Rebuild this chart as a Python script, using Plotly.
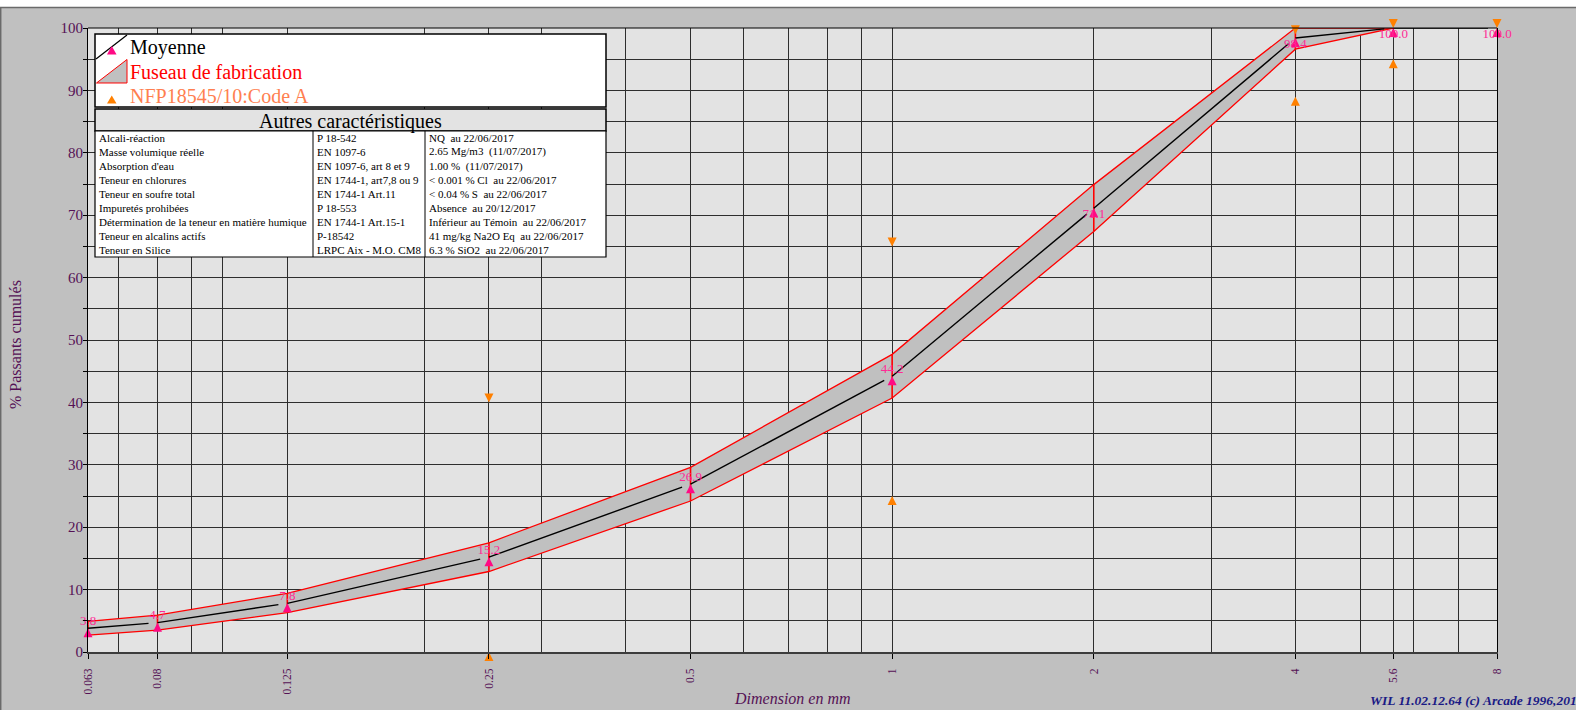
import math
import plotly.graph_objects as go

# ---------------- data ----------------
sieves = [0.063, 0.08, 0.125, 0.25, 0.5, 1, 2, 4, 5.6, 8]
tick_labels = ["0.063", "0.08", "0.125", "0.25", "0.5", "1", "2", "4", "5.6", "8"]
moyenne = [3.8, 4.7, 7.8, 15.2, 26.9, 44.2, 71.1, 98.4, 100.0, 100.0]
fuseau_sup = [4.9, 5.9, 9.4, 17.5, 29.6, 47.7, 74.9, 100.0, 100.0]
fuseau_inf = [2.7, 3.5, 6.3, 12.9, 24.2, 40.7, 67.4, 96.6, 100.0]
nfp_inf = [None, None, None, 0, None, 25, None, 89, 95, 100]
nfp_sup = [None, None, None, 40, None, 65, None, 99, 100, 100]
grid_minor_x = [0.07, 0.09, 0.1, 0.2, 0.3, 0.4, 0.6, 0.7, 0.8, 0.9, 3, 5, 6, 7]

legend_names = ["Moyenne", "Fuseau de fabrication", "NFP18545/10:Code A"]

table_title = "Autres caractéristiques"
table_col1 = ["Alcali-réaction", "Masse volumique réelle", "Absorption d'eau",
              "Teneur en chlorures", "Teneur en soufre total", "Impuretés prohibées",
              "Détermination de la teneur en matière humique", "Teneur en alcalins actifs",
              "Teneur en Silice"]
table_col2 = ["P 18-542", "EN 1097-6", "EN 1097-6, art 8 et 9", "EN 1744-1, art7,8 ou 9",
              "EN 1744-1 Art.11", "P 18-553", "EN 1744-1 Art.15-1", "P-18542",
              "LRPC Aix - M.O. CM8"]
table_col3 = ["NQ  au 22/06/2017", "2.65 Mg/m3  (11/07/2017)", "1.00 %  (11/07/2017)",
              "&lt; 0.001 % Cl  au 22/06/2017", "&lt; 0.04 % S  au 22/06/2017",
              "Absence  au 20/12/2017", "Inférieur au Témoin  au 22/06/2017",
              "41 mg/kg Na2O Eq  au 22/06/2017", "6.3 % SiO2  au 22/06/2017"]

x_title = "Dimension en mm"
y_title = "% Passants cumulés"
footer = "WIL 11.02.12.64 (c) Arcade 1996,2017"

# ---------------- layout helpers ----------------
W, H = 1576, 710
ML, MR, MT, MB = 88, 79, 28, 58
PW, PH = W - ML - MR, H - MT - MB


def px_x(x):
    return (x - ML) / PW


def px_y(y):
    return 1 - (y - MT) / PH


def px_path(points):
    return "M" + " L".join("%.5f,%.5f" % (px_x(a), px_y(b)) for a, b in points) + " Z"


FONT = "Liberation Serif"
PURPLE = "#551155"
PINK = "#ff0a84"
ORANGE = "#ff8000"
GRID = "#2e2e2e"
LEGEND_COLORS = ["#000000", "#ff0000", "#ff7f50"]

fig = go.Figure()

# Fuseau band
n_f = len(fuseau_sup)
fig.add_trace(go.Scatter(x=sieves[:n_f], y=fuseau_inf, mode="lines",
                         line=dict(color="#ff0000", width=1.3),
                         showlegend=False, hoverinfo="skip"))
fig.add_trace(go.Scatter(x=sieves[:n_f], y=fuseau_sup, mode="lines", fill="tonexty",
                         fillcolor="#c0c0c0", line=dict(color="#ff0000", width=1.3),
                         name=legend_names[1], showlegend=False, hoverinfo="skip"))
vx, vy = [], []
for s, lo, hi in zip(sieves[:n_f], fuseau_inf, fuseau_sup):
    vx += [s, s, None]
    vy += [lo, hi, None]
fig.add_trace(go.Scatter(x=vx, y=vy, mode="lines", line=dict(color="#ff0000", width=1.6),
                         showlegend=False, hoverinfo="skip"))

# NFP spec markers
fig.add_trace(go.Scatter(x=sieves, y=nfp_inf, mode="markers",
                         marker=dict(symbol="arrow-up", size=9, color=ORANGE),
                         name=legend_names[2], showlegend=False, cliponaxis=False))
fig.add_trace(go.Scatter(x=sieves, y=nfp_sup, mode="markers",
                         marker=dict(symbol="arrow-down", size=9, color=ORANGE),
                         showlegend=False, cliponaxis=False))

# Moyenne
fig.add_trace(go.Scatter(x=sieves, y=moyenne, mode="lines+markers",
                         line=dict(color="black", width=1.4),
                         marker=dict(symbol="arrow-up", size=9, color=PINK),
                         name=legend_names[0], showlegend=False, cliponaxis=False))
fig.add_trace(go.Scatter(x=sieves, y=moyenne, mode="text",
                         text=["%.1f" % v for v in moyenne],
                         textposition=["top center" if v < 50 else "bottom center" for v in moyenne],
                         textfont=dict(family=FONT, size=13, color="#ff2a95"),
                         showlegend=False, hoverinfo="skip", cliponaxis=False))

shapes = []
annotations = []

# frame of canvas
shapes.append(dict(type="rect", xref="paper", yref="paper", x0=px_x(0), x1=px_x(W),
                   y0=px_y(0), y1=px_y(7), fillcolor="white", line=dict(width=0), layer="above"))
shapes.append(dict(type="line", xref="paper", yref="paper", x0=px_x(0), x1=px_x(W),
                   y0=px_y(7.5), y1=px_y(7.5), line=dict(color="#6a6a6a", width=1.5), layer="above"))
shapes.append(dict(type="line", xref="paper", yref="paper", x0=px_x(0.7), x1=px_x(0.7),
                   y0=px_y(7.5), y1=px_y(H), line=dict(color="#6a6a6a", width=1.5), layer="above"))
# top border of plot
shapes.append(dict(type="line", xref="paper", yref="paper", x0=0, x1=1, y0=1, y1=1,
                   line=dict(color="black", width=1), layer="above"))

# legend box (drawn by hand)
LB = dict(x0=95, x1=606, y0=34, y1=107)
shapes.append(dict(type="rect", xref="paper", yref="paper", x0=px_x(LB["x0"]), x1=px_x(LB["x1"]),
                   y0=px_y(LB["y1"]), y1=px_y(LB["y0"]), fillcolor="white",
                   line=dict(color="black", width=1.5), layer="above"))
LEG_Y = [47, 72, 96.5]
# Moyenne icon
shapes.append(dict(type="line", xref="paper", yref="paper", x0=px_x(96), y0=px_y(59),
                   x1=px_x(127), y1=px_y(35), line=dict(color="black", width=1.2), layer="above"))
shapes.append(dict(type="path", xref="paper", yref="paper",
                   path=px_path([(107, 54.5), (116.5, 54.5), (111.75, 46)]),
                   fillcolor=PINK, line=dict(width=0), layer="above"))
# Fuseau icon
shapes.append(dict(type="path", xref="paper", yref="paper",
                   path=px_path([(96.5, 83), (127, 83), (127, 59.5)]),
                   fillcolor="#c0c0c0", line=dict(color="#ff0000", width=1), layer="above"))
# NFP icon
shapes.append(dict(type="path", xref="paper", yref="paper",
                   path=px_path([(107, 103.5), (116.5, 103.5), (111.75, 95.5)]),
                   fillcolor=ORANGE, line=dict(width=0), layer="above"))
for name, col, ly in zip(legend_names, LEGEND_COLORS, LEG_Y):
    annotations.append(dict(xref="paper", yref="paper", x=px_x(128), y=px_y(ly), text=name,
                            showarrow=False, xanchor="left", yanchor="middle",
                            font=dict(family=FONT, size=20, color=col)))

# table
TX0, TX1 = 95, 606
COLX = [95, 313, 425]
HY0, HY1 = 109, 131
ROWH = 14.0
TY1 = HY1 + ROWH * len(table_col1)
shapes.append(dict(type="rect", xref="paper", yref="paper", x0=px_x(TX0), x1=px_x(TX1),
                   y0=px_y(HY1), y1=px_y(HY0), fillcolor="#e3e3e3",
                   line=dict(color="black", width=1.5), layer="above"))
shapes.append(dict(type="rect", xref="paper", yref="paper", x0=px_x(TX0), x1=px_x(TX1),
                   y0=px_y(TY1), y1=px_y(HY1), fillcolor="white",
                   line=dict(color="black", width=1.2), layer="above"))
for cx in COLX[1:]:
    shapes.append(dict(type="line", xref="paper", yref="paper", x0=px_x(cx), x1=px_x(cx),
                       y0=px_y(TY1), y1=px_y(HY1), line=dict(color="black", width=1), layer="above"))
annotations.append(dict(xref="paper", yref="paper", x=px_x((TX0 + TX1) / 2), y=px_y((HY0 + HY1) / 2 + 1),
                        text=table_title, showarrow=False, xanchor="center", yanchor="middle",
                        font=dict(family=FONT, size=20, color="black")))
for col, cx in zip([table_col1, table_col2, table_col3], COLX):
    for i, t in enumerate(col):
        annotations.append(dict(xref="paper", yref="paper", x=px_x(cx + 2),
                                y=px_y(HY1 + ROWH * (i + 0.5)), text=t, showarrow=False,
                                xanchor="left", yanchor="middle",
                                font=dict(family=FONT, size=11, color="black")))

# titles
annotations.append(dict(xref="paper", yref="paper", x=px_x(15), y=px_y(345), text=y_title,
                        textangle=-90, showarrow=False, xanchor="center", yanchor="middle",
                        font=dict(family=FONT, size=16, color=PURPLE)))
annotations.append(dict(xref="paper", yref="paper", x=px_x(792), y=px_y(698),
                        text="<i>%s</i>" % x_title, showarrow=False, xanchor="center", yanchor="middle",
                        font=dict(family=FONT, size=16, color=PURPLE)))
annotations.append(dict(xref="paper", yref="paper", x=px_x(1368), y=px_y(700),
                        text="<b><i>%s</i></b>" % footer, showarrow=False, xanchor="left", yanchor="middle",
                        font=dict(family=FONT, size=13.5, color="#1a1a85")))

fig.update_layout(
    width=W, height=H,
    margin=dict(l=ML, r=MR, t=MT, b=MB, pad=0),
    paper_bgcolor="#c0c0c0", plot_bgcolor="#e3e3e3",
    shapes=shapes, annotations=annotations,
    showlegend=False,
    xaxis=dict(type="log", range=[math.log10(sieves[0]), math.log10(sieves[-1])],
               tickmode="array", tickvals=sieves, ticktext=tick_labels, tickangle=-90,
               tickfont=dict(family=FONT, size=11.5, color=PURPLE),
               ticks="outside", ticklen=5, tickcolor="black", tickwidth=1,
               ticklabelstandoff=5,
               showgrid=True, gridcolor=GRID, gridwidth=1,
               minor=dict(tickvals=grid_minor_x, showgrid=True, gridcolor=GRID, gridwidth=1, ticks=""),
               showline=True, linecolor="#3c3c3c", linewidth=2,
               zeroline=False, automargin=False, fixedrange=True),
    yaxis=dict(range=[0, 100], tickmode="linear", tick0=0, dtick=10,
               tickfont=dict(family=FONT, size=15, color=PURPLE),
               ticks="outside", ticklen=4, tickcolor="black",
               ticklabelstandoff=-3,
               showgrid=True, gridcolor=GRID, gridwidth=1,
               minor=dict(dtick=5, showgrid=True, gridcolor=GRID, gridwidth=1,
                          ticks="outside", ticklen=4, tickcolor="black"),
               showline=True, linecolor="black", linewidth=1, mirror=True,
               zeroline=False, automargin=False, fixedrange=True),
)

fig.write_html("out.html", config=dict(displayModeBar=False),
               post_script="document.body.style.margin='0px';document.body.style.overflow='hidden';")
